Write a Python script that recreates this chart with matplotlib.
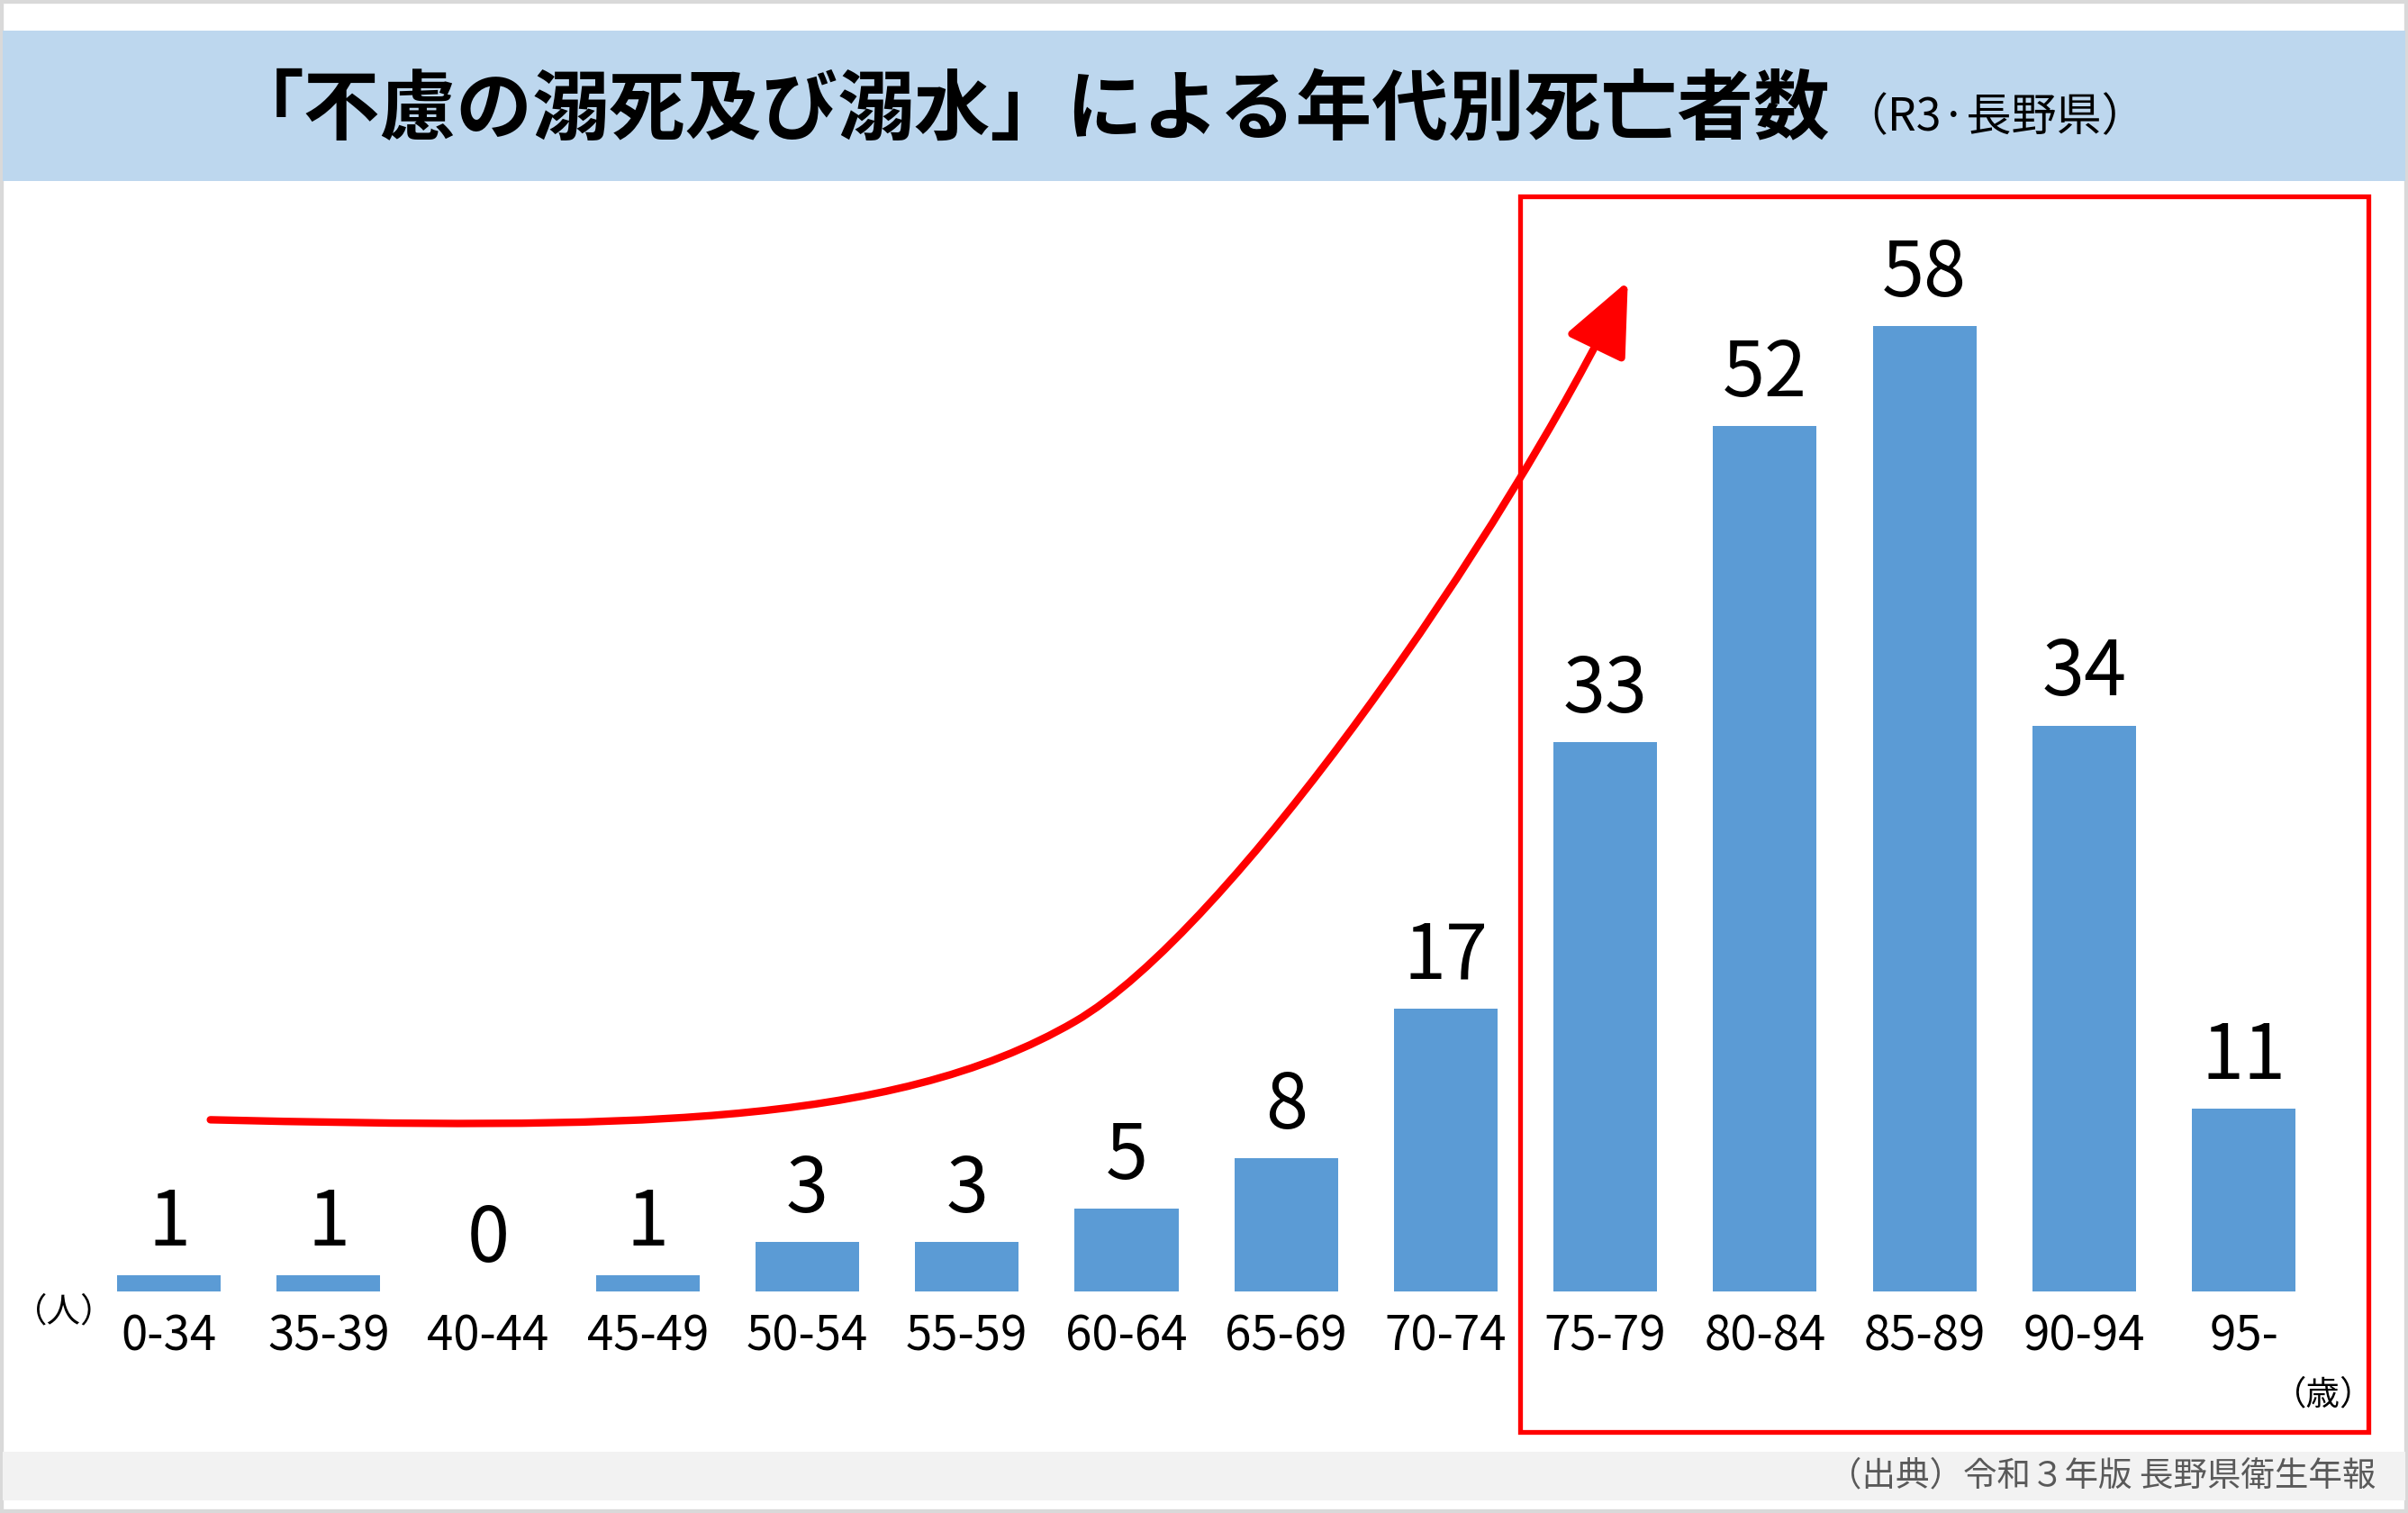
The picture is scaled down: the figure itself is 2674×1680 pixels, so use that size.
import numpy as np
import matplotlib.pyplot as plt
from matplotlib.patches import Rectangle, FancyArrowPatch
from matplotlib.path import Path

plt.rcParams['font.family'] = ['Noto Sans CJK JP', 'DejaVu Sans']

age_groups = ['0-34', '35-39', '40-44', '45-49', '50-54', '55-59', '60-64',
              '65-69', '70-74', '75-79', '80-84', '85-89', '90-94', '95-']
deaths = [1, 1, 0, 1, 3, 3, 5, 8, 17, 33, 52, 58, 34, 11]

W, H = 1568, 985  # layout measured on the reduced picture


def fx(x):
    return x / W


def fy(y):
    return 1 - y / H


fig = plt.figure(figsize=(26.74, 16.8), dpi=100)

# frame, title band, source band
fig.patches.append(Rectangle((0, 0), 1, 1, transform=fig.transFigure,
                             facecolor='white', edgecolor='#d9d9d9', lw=6, zorder=-20))
fig.patches.append(Rectangle((fx(2), fy(118)), fx(1564), 98 / H, transform=fig.transFigure,
                             facecolor='#bdd7ee', edgecolor='none', zorder=-10))
fig.patches.append(Rectangle((fx(2), fy(977)), fx(1564), 32 / H, transform=fig.transFigure,
                             facecolor='#f2f2f2', edgecolor='none', zorder=-10))

fig.text(fx(148), fy(72), '「不慮の溺死及び溺水」による年代別死亡者数',
         fontsize=61, fontweight='bold', ha='left', va='center')
fig.text(fx(1200), fy(77), '（R3·長野県）', fontsize=36, ha='left', va='center')
fig.text(fx(1547), fy(961), '（出典）令和３年版 長野県衛生年報', fontsize=27,
         color='#595959', ha='right', va='center')

# bars
ax = fig.add_axes([fx(58), fy(841), fx(1513) - fx(58), fy(190.5) - fy(841)])
x = np.arange(len(age_groups))
ax.bar(x, deaths, width=0.65, color='#5b9bd5')
for xi, v in zip(x, deaths):
    ax.text(xi, v + 1.8, str(v), ha='center', va='baseline', fontsize=61)
ax.set_xlim(-0.5, len(age_groups) - 0.5)
ax.set_ylim(0, 60)
ax.set_xticks(x)
ax.set_xticklabels(age_groups, fontsize=38)
ax.tick_params(axis='x', length=0, pad=16)
ax.set_yticks([])
for s in ax.spines.values():
    s.set_visible(False)

fig.text(fx(42), fy(854), '（人）', fontsize=27, ha='center', va='center')
fig.text(fx(1546), fy(908), '（歳）', fontsize=27, ha='right', va='center')

# red highlight box
fig.patches.append(Rectangle((fx(990), fy(932)), fx(1542) - fx(990), (932 - 128) / H,
                             transform=fig.transFigure, facecolor='none',
                             edgecolor='#ff0000', lw=3.8, zorder=5))

# rising arrow
pts = [(137, 729), (400, 735), (580, 735), (700, 665),
       (800, 607), (980, 349), (1060, 183)]
verts = [(fx(a), fy(b)) for a, b in pts]
codes = [Path.MOVETO] + [Path.CURVE4] * 6
arrow = FancyArrowPatch(path=Path(verts, codes), transform=fig.transFigure,
                        arrowstyle='-|>,head_length=50,head_width=22',
                        mutation_scale=1, color='#ff0000', lw=6, zorder=6)
fig.patches.append(arrow)

fig.savefig('out.png', dpi=100)
